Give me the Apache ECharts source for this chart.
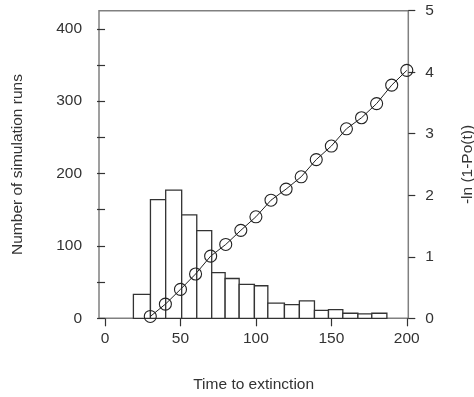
<!DOCTYPE html>
<html>
<head>
<meta charset="utf-8">
<script src="https://cdn.jsdelivr.net/npm/echarts@6/dist/echarts.min.js"></script>
<style>
html,body{margin:0;padding:0;background:#fff;}
#chart{width:474px;height:397px;}
</style>
</head>
<body>
<div id="chart"></div>
<script>
// Histogram bin edges (time to extinction) and counts
const binEdges = [18.8, 30.1, 40.2, 50.8, 60.8, 70.7, 79.6, 88.9, 99.0, 107.9, 118.9, 128.8, 138.8, 148.1, 157.6, 167.6, 176.8, 186.8];
const runCounts = [33, 164, 177, 143, 121, 63, 55, 47, 45, 21, 19, 24, 11, 12, 7, 6, 7];
// -ln(1-Po(t)) points
const timePoints = [30, 40, 50, 60, 70, 80, 90, 100, 110, 120, 130, 140, 150, 160, 170, 180, 190, 200];
const negLogValues = [0.03, 0.23, 0.47, 0.72, 1.01, 1.20, 1.43, 1.65, 1.92, 2.10, 2.30, 2.58, 2.80, 3.08, 3.26, 3.49, 3.79, 4.03];
// Tick labels
const xTicks = [0, 50, 100, 150, 200];
const leftMinorTicks = [0, 50, 100, 150, 200, 250, 300, 350, 400];
const leftLabels = [0, 100, 200, 300, 400];
const rightTicks = [0, 1, 2, 3, 4, 5];

const histData = runCounts.map((c, i) => [binEdges[i], binEdges[i + 1], c]);
const lineData = timePoints.map((t, i) => [t, negLogValues[i]]);

const FONT = 'Liberation Sans, Arial, sans-serif';
const TXT = '#333';
const FS = 15.5;
const chart = echarts.init(document.getElementById('chart'));
chart.setOption({
  animation: false,
  backgroundColor: '#fff',
  grid: {left: 99, right: 65.7, top: 10.7, bottom: 78.7, containLabel: false, outerBoundsMode: 'none',
         show: true, borderColor: '#808080', borderWidth: 1.5, backgroundColor: 'transparent'},
  xAxis: {
    type: 'value', min: -4, max: 201,
    splitLine: {show: false},
    axisLine: {show: false},
    axisTick: {show: true, customValues: xTicks, length: 8, lineStyle: {color: '#333', width: 1.2}},
    axisLabel: {customValues: xTicks, color: TXT, fontSize: FS, fontFamily: FONT, margin: 12},
    name: 'Time to extinction', nameLocation: 'middle', nameGap: 58,
    nameTextStyle: {color: TXT, fontSize: FS, fontFamily: FONT}
  },
  yAxis: [{
    type: 'value', min: 0, max: 425, position: 'left',
    splitLine: {show: false},
    axisLine: {show: false},
    axisTick: {show: true, customValues: leftMinorTicks, length: 8, lineStyle: {color: '#333', width: 1.2}},
    axisLabel: {customValues: leftLabels, color: TXT, fontSize: FS, fontFamily: FONT, margin: 17},
    name: 'Number of simulation runs', nameLocation: 'middle', nameGap: 73, nameRotate: 90,
    nameTextStyle: {color: TXT, fontSize: FS, fontFamily: FONT}
  }, {
    type: 'value', min: 0, max: 5, position: 'right',
    splitLine: {show: false},
    axisLine: {show: false},
    axisTick: {show: true, customValues: rightTicks, length: 7, lineStyle: {color: '#333', width: 1.2}},
    axisLabel: {customValues: rightTicks, color: TXT, fontSize: FS, fontFamily: FONT, margin: 17},
    name: '-ln (1-Po(t))', nameLocation: 'middle', nameGap: 51, nameRotate: 90,
    nameTextStyle: {color: TXT, fontSize: FS, fontFamily: FONT}
  }],
  series: [{
    type: 'custom',
    xAxisIndex: 0, yAxisIndex: 0,
    data: histData,
    encode: {x: [0, 1], y: 2},
    renderItem: function (params, api) {
      const p0 = api.coord([api.value(0), api.value(2)]);
      const p1 = api.coord([api.value(1), 0]);
      return {
        type: 'rect',
        shape: {x: p0[0], y: p0[1], width: p1[0] - p0[0], height: p1[1] - p0[1]},
        style: {fill: '#fff', stroke: '#333', lineWidth: 1.3}
      };
    }
  }, {
    type: 'line',
    xAxisIndex: 0, yAxisIndex: 1,
    data: lineData,
    symbol: 'circle', symbolSize: 12,
    showAllSymbol: true,
    lineStyle: {color: '#222', width: 1},
    itemStyle: {color: 'transparent', borderColor: '#222', borderWidth: 1.1}
  }]
});
</script>
</body>
</html>
